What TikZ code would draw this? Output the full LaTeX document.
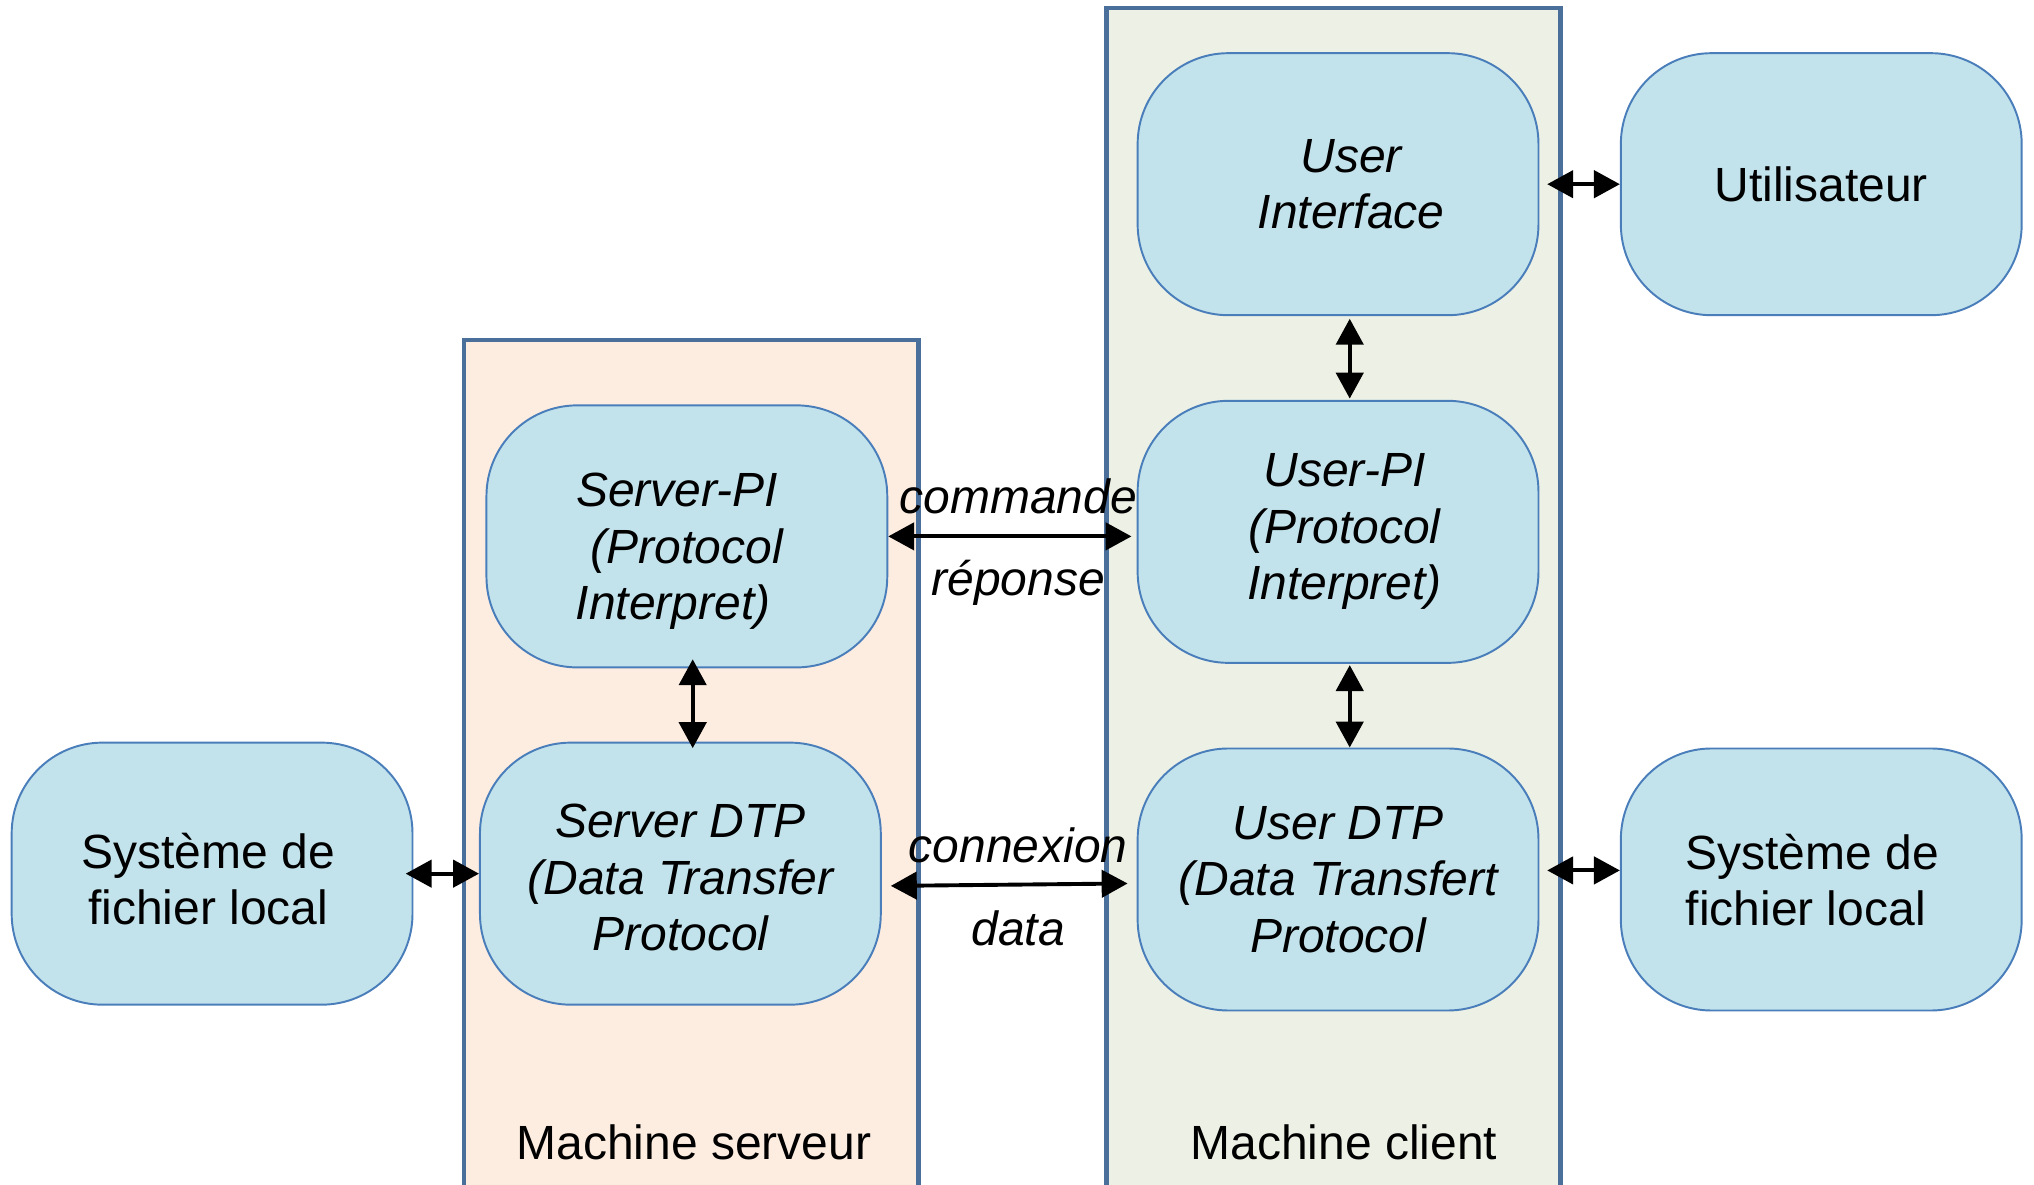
\documentclass[tikz,border=0pt]{standalone}
\usepackage{fontspec}
\setmainfont{Liberation Sans}
\usetikzlibrary{arrows.meta,calc}
\definecolor{nodefill}{HTML}{C3E3EC}
\definecolor{nodedraw}{HTML}{4A7EBB}
\definecolor{boxdraw}{HTML}{4B6F9B}
\definecolor{clientfill}{HTML}{EDF1E5}
\definecolor{serverfill}{HTML}{FDEDE1}
\begin{document}
\begin{tikzpicture}[x=0.5pt,y=-0.5pt,
  every node/.style={font=\fontsize{18.5}{21.75}\selectfont},
  blob/.style={draw=nodedraw,line width=0.75pt,fill=nodefill,rounded corners=35pt,
    minimum width=154.5pt,minimum height=101pt,inner sep=0pt,align=center},
  iblob/.style={blob,font=\fontsize{18.5}{21.75}\selectfont\itshape},
  machine/.style={draw=boxdraw,line width=1.6pt},
  arr/.style={line width=1.5pt,{Triangle[length=10pt,width=10.5pt]}-{Triangle[length=10pt,width=10.5pt]}},
  lbl/.style={font=\fontsize{18.5}{21.75}\selectfont\itshape,inner sep=0pt}
]
\clip (0,0) rectangle (1568,913);
\fill[white] (0,0) rectangle (1568,913);
% machine boxes
\draw[machine,fill=clientfill] (853,930) -- (853,6) -- (1203,6) -- (1203,930);
\draw[machine,fill=serverfill] (358,930) -- (358,262) -- (708,262) -- (708,930);
\node[inner sep=0pt] (mserv) at (535,881) {Machine serveur};
\node[inner sep=0pt] (mcli) at (1036,881) {Machine client};
% nodes
\node[iblob] (ui) at (1031.5,142) {\hspace*{10pt}User\\\hspace*{10pt}Interface};
\node[blob] (util) at (1404,142) {Utilisateur};
\node[iblob] (upi) at (1031.5,410) {\hspace*{5pt}User-PI\\\hspace*{5pt}(Protocol\\\hspace*{5pt}Interpret)};
\node[iblob] (udtp) at (1031.5,678) {User DTP\\(Data Transfert\\Protocol};
\node[blob] (sysR) at (1404,678) {\rule{0pt}{14pt}Système de\hspace*{7pt}\\fichier local\hspace*{12pt}};
\node[iblob] (spi) at (529.5,413.5) {\rule{0pt}{24.5pt}Server-PI\hspace*{7.5pt}\\(Protocol\\Interpret)\hspace*{10.5pt}};
\node[iblob] (sdtp) at (524.5,673.5) {\rule{0pt}{16pt}Server DTP\\(Data Transfer\\Protocol};
\node[blob] (sysL) at (163.5,673.5) {\rule{0pt}{18pt}Système de\hspace*{3pt}\\fichier local\hspace*{3pt}};
% labels
\node[lbl] (lcmd) at (785,383) {commande};
\node[lbl] (lrep) at (785,449) {réponse};
\node[lbl] (lcon) at (785,652) {connexion};
\node[lbl] (ldat) at (785,716) {data};
% arrows
\draw[arr,shorten <=3pt] (ui.east) -- (util.west);
\draw[arr,shorten <=1pt,shorten >=0.5pt] ([xshift=4.5pt]ui.south) -- ([xshift=4.5pt]upi.north);
\draw[arr,shorten >=2pt] (spi.east) -- (upi.west |- spi.east);
\draw[arr,shorten <=-3.5pt,shorten >=-2.5pt] ([xshift=2.25pt]spi.south) -- ([xshift=2.25pt]spi.south |- sdtp.north);
\draw[arr,shorten <=0.5pt] ([xshift=4.5pt]upi.south) -- ([xshift=4.5pt]udtp.north);
\draw[arr,shorten <=3.5pt,shorten >=3.5pt] ([yshift=-4.75pt]sdtp.east) -- ([yshift=-1.5pt]udtp.west);
\draw[arr,shorten <=-3pt] (sysL.east) -- (sdtp.west);
\draw[arr,shorten <=3pt] ([yshift=3.5pt]udtp.east) -- ([yshift=3.5pt]udtp.east -| sysR.west);
\end{tikzpicture}
\end{document}
